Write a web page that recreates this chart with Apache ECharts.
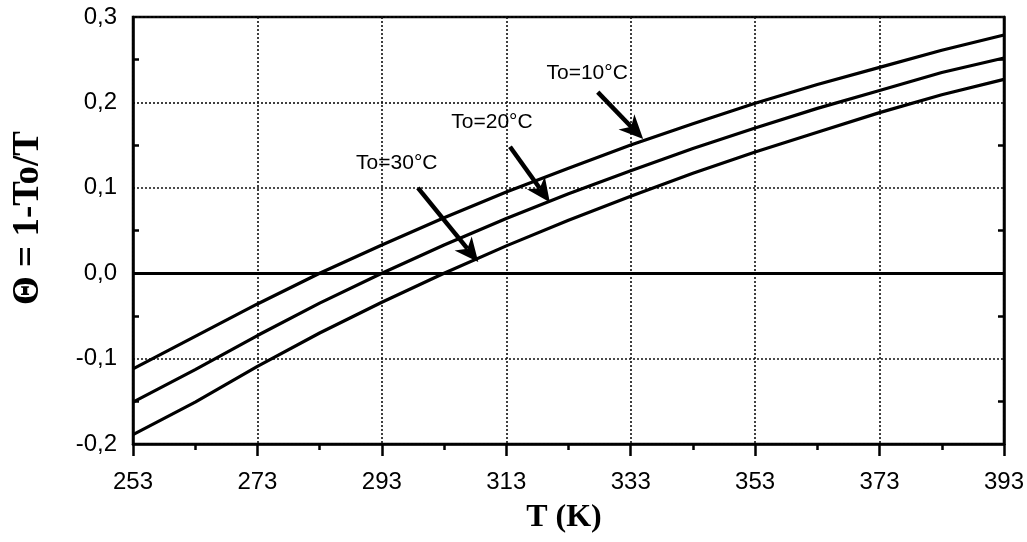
<!DOCTYPE html>
<html>
<head>
<meta charset="utf-8">
<script src="https://cdn.jsdelivr.net/npm/echarts@6/dist/echarts.min.js"></script>
<style>html,body{margin:0;padding:0;background:#fff}#c{width:1027px;height:542px}</style>
</head>
<body>
<div id="c"></div>
<script>
// Data
var temperaturesK = [253, 263, 273, 283, 293, 303, 313, 323, 333, 343, 353, 363, 373, 383, 393];
var thetaTo10 = [-0.112, -0.074, -0.036, 0.000, 0.033, 0.065, 0.095, 0.123, 0.150, 0.175, 0.199, 0.221, 0.241, 0.261, 0.279];
var thetaTo20 = [-0.151, -0.113, -0.073, -0.035, 0.000, 0.033, 0.064, 0.093, 0.120, 0.146, 0.170, 0.193, 0.214, 0.235, 0.252];
var thetaTo30 = [-0.189, -0.151, -0.109, -0.070, -0.034, 0.000, 0.032, 0.062, 0.090, 0.117, 0.142, 0.165, 0.188, 0.209, 0.227];
var seriesNames = ['To=10°C', 'To=20°C', 'To=30°C'];
// annotation anchors (data coords): label centre, arrow start, arrow tip
var labelPos = [[326.0, 0.234], [310.7, 0.177], [295.4, 0.129]];
var arrowStart = [[327.7, 0.212], [313.6, 0.148], [298.8, 0.100]];
var arrowTip = [[335.0, 0.157], [320.0, 0.083], [308.5, 0.013]];
var xTitle = 'T (K)';
var yTitle = 'Θ = 1-To/T';

function pairs(vals) { return temperaturesK.map(function (t, i) { return [t, vals[i]]; }); }
var allVals = [thetaTo10, thetaTo20, thetaTo30];
var SANS = 'Liberation Sans, Arial, sans-serif';

var chart = echarts.init(document.getElementById('c'), null, {renderer: 'canvas'});
var series = allVals.map(function (v, k) {
  var s = {
    name: seriesNames[k], type: 'line', data: pairs(v), symbol: 'none', smooth: false,
    lineStyle: {color: '#000', width: 3.2}, z: 3,
    markPoint: {
      silent: true, animation: false, symbol: 'rect', symbolSize: 1,
      itemStyle: {color: 'rgba(0,0,0,0)'},
      label: {show: true, position: 'inside', color: '#000', fontSize: 21, fontFamily: SANS, formatter: seriesNames[k]},
      data: [{coord: labelPos[k]}]
    }
  };
  if (k === 0) {
    s.markLine = {
      silent: true, animation: false, symbol: ['none', 'none'],
      label: {show: false},
      lineStyle: {color: '#000', width: 3, type: 'solid'},
      data: [{yAxis: 0}]
    };
  }
  return s;
});

function yAxisCfg(right) {
  return {
    type: 'value', min: -0.2, max: 0.3, interval: 0.1, position: right ? 'right' : 'left',
    axisLine: {show: true, onZero: false, lineStyle: {color: '#000', width: 2.5}},
    axisTick: {show: true, inside: true, length: 0, lineStyle: {color: '#000', width: 2.5}},
    minorTick: {show: true, splitNumber: 2, length: 6, lineStyle: {color: '#000', width: 2.5}},
    axisLabel: right ? {show: false} : {margin: 16, color: '#000', fontSize: 24, fontFamily: SANS,
      formatter: function (v) { return v.toFixed(1).replace('.', ','); }},
    splitLine: {show: !right, lineStyle: {color: '#111', width: 1.6, type: [2, 2]}}
  };
}

chart.setOption({
  animation: false,
  backgroundColor: '#fff',
  grid: {left: 133, right: 23, top: 17, bottom: 98, show: true, borderColor: '#000', borderWidth: 2.5, containLabel: false},
  xAxis: {
    type: 'value', min: 253, max: 393, interval: 20,
    axisLine: {show: true, onZero: false, lineStyle: {color: '#000', width: 2.5}},
    axisTick: {show: true, length: 12, lineStyle: {color: '#000', width: 2.5}},
    minorTick: {show: true, splitNumber: 2, length: 6, lineStyle: {color: '#000', width: 2.5}},
    axisLabel: {margin: 26, color: '#000', fontSize: 24, fontFamily: SANS},
    splitLine: {show: true, lineStyle: {color: '#111', width: 1.6, type: [2, 2]}}
  },
  yAxis: [yAxisCfg(false), yAxisCfg(true)],
  series: series
});

// arrows: positioned through the chart's own scales
function px(c) { return chart.convertToPixel({xAxisIndex: 0, yAxisIndex: 0}, c); }
var graphics = [
  {type: 'text', x: 28, y: 218, rotation: Math.PI / 2, silent: true,
    style: {text: yTitle, fill: '#000', font: 'bold 37px "Liberation Serif", "Times New Roman", serif', align: 'center', verticalAlign: 'middle'}},
  {type: 'text', x: 564, y: 518, silent: true,
    style: {text: xTitle, fill: '#000', font: 'bold 32px "Liberation Serif", "Times New Roman", serif', align: 'center', verticalAlign: 'middle'}}
];
arrowStart.forEach(function (st, k) {
  var s = px(st), t = px(arrowTip[k]);
  var dx = t[0] - s[0], dy = t[1] - s[1], len = Math.sqrt(dx * dx + dy * dy);
  var ux = dx / len, uy = dy / len, nx = -uy, ny = ux;
  var L = 24, W = 11;
  var bx = t[0] - ux * L, by = t[1] - uy * L;
  var nxp = t[0] - ux * L * 0.72, nyp = t[1] - uy * L * 0.72;
  graphics.push({type: 'line', silent: true, z: 10,
    shape: {x1: s[0], y1: s[1], x2: nxp, y2: nyp},
    style: {stroke: '#000', lineWidth: 4.5}});
  graphics.push({type: 'polygon', silent: true, z: 10,
    shape: {points: [[t[0], t[1]], [bx + nx * W, by + ny * W], [nxp, nyp], [bx - nx * W, by - ny * W]]},
    style: {fill: '#000'}});
});
chart.setOption({graphic: graphics});
</script>
</body>
</html>
